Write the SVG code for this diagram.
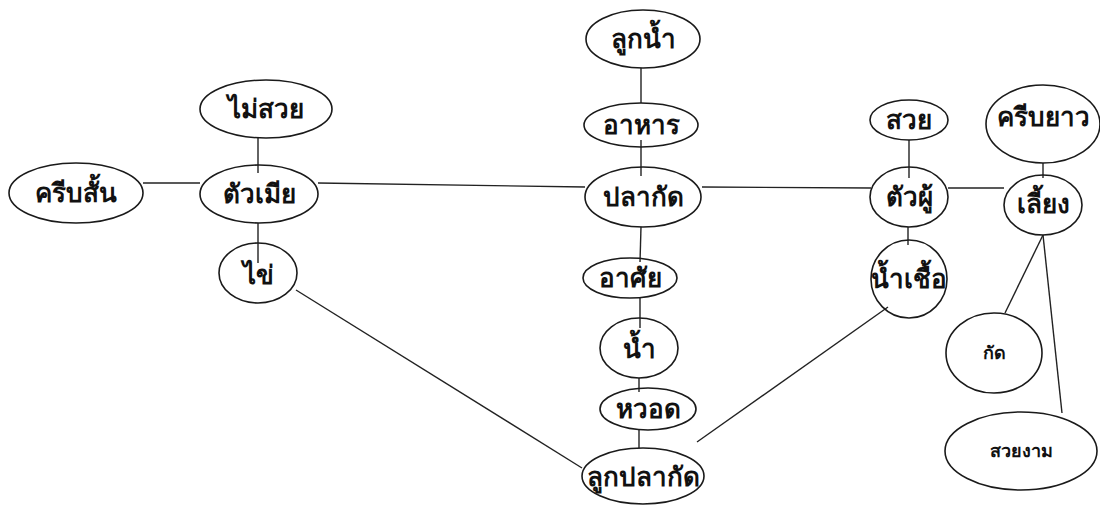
<svg xmlns="http://www.w3.org/2000/svg" width="1100" height="509" viewBox="0 0 1100 509">
<style>
.n ellipse{fill:#fff;stroke:#1a1a1a;stroke-width:1.6}
.n text{font-family:"Noto Sans","DejaVu Sans",sans-serif;font-size:26px;font-weight:bold;fill:#111;text-anchor:middle}
.n text.s{font-size:18px}
#edges line{stroke:#222;stroke-width:1.4}
</style>
<rect width="1100" height="509" fill="#fff"/>
<g id="edges">
<line x1="143" y1="183" x2="200" y2="183"/>
<line x1="258" y1="138" x2="258" y2="173"/>
<line x1="318" y1="183" x2="585" y2="187"/>
<line x1="258" y1="223" x2="258" y2="263"/>
<line x1="296" y1="290" x2="582" y2="468"/>
<line x1="641" y1="68" x2="641" y2="103"/>
<line x1="641" y1="140" x2="641" y2="176"/>
<line x1="641" y1="227" x2="640" y2="262"/>
<line x1="640" y1="298" x2="640" y2="328"/>
<line x1="639" y1="378" x2="639" y2="392"/>
<line x1="639" y1="430" x2="639" y2="448"/>
<line x1="702" y1="187" x2="871" y2="188"/>
<line x1="909" y1="140" x2="909" y2="178"/>
<line x1="948" y1="188" x2="1004" y2="188"/>
<line x1="1043" y1="163" x2="1043" y2="178"/>
<line x1="908" y1="227" x2="908" y2="245"/>
<line x1="888" y1="307" x2="697" y2="442"/>
<line x1="1043" y1="235" x2="1005" y2="313"/>
<line x1="1043" y1="235" x2="1062" y2="413"/>
</g>
<g id="n-kribsan" class="n"><ellipse cx="76" cy="193" rx="67" ry="30"/><text x="76" y="202">ครีบสั้น</text></g>
<g id="n-maisuay" class="n"><ellipse cx="266" cy="109" rx="66" ry="29" fill="none"/><text x="266" y="118">ไม่สวย</text></g>
<g id="n-tuamia" class="n"><ellipse cx="259" cy="194" rx="59" ry="29" style="fill:none"/><text x="259" y="203">ตัวเมีย</text></g>
<g id="n-khai" class="n"><ellipse cx="258" cy="273" rx="39" ry="30" style="fill:none"/><text x="258" y="284">ไข่</text></g>
<g id="n-luknam" class="n"><ellipse cx="643" cy="39" rx="57" ry="29" style="fill:none"/><text x="643" y="48">ลูกน้ำ</text></g>
<g id="n-ahan" class="n"><ellipse cx="641" cy="125" rx="57" ry="22" style="fill:none"/><text x="641" y="134">อาหาร</text></g>
<g id="n-plakat" class="n"><ellipse cx="643" cy="197" rx="58" ry="30" style="fill:none"/><text x="643" y="206">ปลากัด</text></g>
<g id="n-asai" class="n"><ellipse cx="630" cy="278" rx="47" ry="20" style="fill:none"/><text x="630" y="287">อาศัย</text></g>
<g id="n-nam" class="n"><ellipse cx="639" cy="348" rx="39" ry="30" style="fill:none"/><text x="639" y="358">น้ำ</text></g>
<g id="n-huot" class="n"><ellipse cx="648" cy="409" rx="48" ry="21" style="fill:none"/><text x="648" y="418">หวอด</text></g>
<g id="n-lukplakat" class="n"><ellipse cx="643" cy="476" rx="61" ry="28" style="fill:none"/><text x="643" y="486">ลูกปลากัด</text></g>
<g id="n-suay" class="n"><ellipse cx="909" cy="120" rx="39" ry="20" style="fill:none"/><text x="909" y="129">สวย</text></g>
<g id="n-tuaphu" class="n"><ellipse cx="909" cy="197" rx="39" ry="30" style="fill:none"/><text x="909" y="206">ตัวผู้</text></g>
<g id="n-namchuea" class="n"><ellipse cx="909" cy="279" rx="38" ry="39" style="fill:none"/><text x="909" y="288">น้ำเชื้อ</text></g>
<g id="n-kribyao" class="n"><ellipse cx="1043" cy="124" rx="57" ry="39" style="fill:none"/><text x="1043" y="126">ครีบยาว</text></g>
<g id="n-liang" class="n"><ellipse cx="1043" cy="205" rx="39" ry="30" style="fill:none"/><text x="1043" y="213">เลี้ยง</text></g>
<g id="n-kat" class="n"><ellipse cx="994" cy="353" rx="48" ry="40" style="fill:none"/><text class="s" x="994" y="359">กัด</text></g>
<g id="n-suayngam" class="n"><ellipse cx="1021" cy="451" rx="76" ry="39" style="fill:none"/><text class="s" x="1021" y="457">สวยงาม</text></g>
</svg>
